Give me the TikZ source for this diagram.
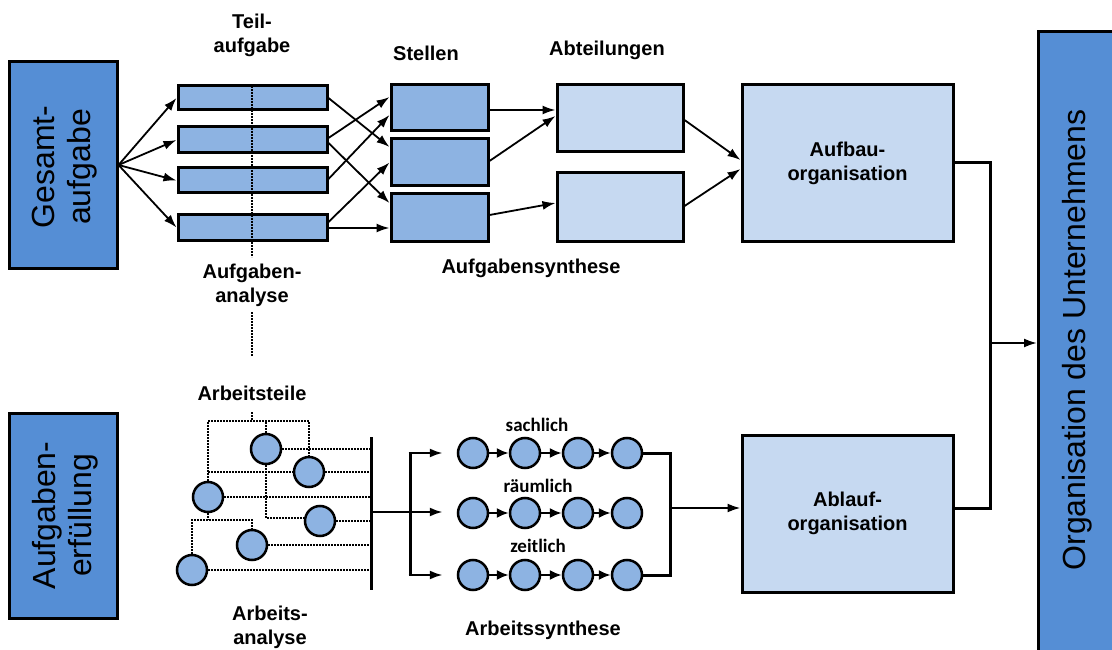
\documentclass[tikz,border=0pt]{standalone}
\usepackage{fontspec}
\setmainfont{Liberation Sans}
\newfontfamily\calfont{Carlito}
\usetikzlibrary{arrows.meta,calc}
\pgfdeclarelayer{background}
\pgfsetlayers{background,main}
\definecolor{bigblue}{HTML}{558ED5}
\definecolor{midblue}{HTML}{8DB3E2}
\definecolor{lightblue}{HTML}{C6D9F1}
\begin{document}
\begin{tikzpicture}[x=1pt,y=-1pt,
  bigbox/.style={draw, line width=3pt, fill=bigblue, inner sep=0pt},
  midbox/.style={draw, line width=3pt, fill=midblue, inner sep=0pt},
  lightbox/.style={draw, line width=3pt, fill=lightblue, inner sep=0pt},
  circ/.style={circle, draw, line width=2.5pt, fill=midblue, minimum size=30pt, inner sep=0pt},
  arr/.style={-{Latex[length=13pt,width=9pt]}, line width=1.8pt},
  sarr/.style={-{Latex[length=12pt,width=10pt]}, line width=2pt},
  dot/.style={line width=2.2pt, dash pattern=on 1.6pt off 1.4pt},
  lbl/.style={font=\bfseries\fontsize{20}{24}\selectfont, align=center, inner sep=0pt},
  slbl/.style={font=\calfont\bfseries\fontsize{19}{22}\selectfont, inner sep=0pt},
  bigtext/.style={font=\fontsize{32}{36}\selectfont, align=center, inner sep=0pt},
  bar/.style={line width=3pt}
]
\useasboundingbox (0,0) rectangle (1112,650);

% ---------- top half ----------
\node[bigbox, minimum width=108pt, minimum height=206pt] (G) at (63,165) {};
\node[bigtext, rotate=90] at ([xshift=2pt,yshift=-2pt]G.center) {Gesamt-\\aufgabe};

\node[midbox, minimum width=149pt, minimum height=24pt] (T1) at (252.5,98) {};
\node[midbox, minimum width=149pt, minimum height=26pt] (T2) at (252.5,140) {};
\node[midbox, minimum width=149pt, minimum height=25pt] (T3) at (252.5,180.5) {};
\node[midbox, minimum width=149pt, minimum height=25pt] (T4) at (252.5,227.5) {};

\coordinate (dv1) at (252,86);
\coordinate (dv2) at (252,257);
\coordinate (dv3) at (252,312);
\coordinate (dv4) at (252,356);
\draw[dot] (dv1) -- (dv2);
\draw[dot] (dv3) -- (dv4);

\node[midbox, minimum width=97pt, minimum height=46pt] (S1) at (439.5,108) {};
\node[midbox, minimum width=97pt, minimum height=47pt] (S2) at (439.5,162.5) {};
\node[midbox, minimum width=97pt, minimum height=47pt] (S3) at (439.5,217.5) {};

\node[lightbox, minimum width=126pt, minimum height=67pt] (A1) at (620,118.5) {};
\node[lightbox, minimum width=126pt, minimum height=68pt] (A2) at (620,207) {};

\node[lightbox, minimum width=211pt, minimum height=156pt, lbl] (AU) at (847.5,163) {Aufbau-\\organisation};
\node[lightbox, minimum width=211pt, minimum height=157pt, lbl] (AB) at (847.5,513.5) {Ablauf-\\organisation};

\begin{scope}
\clip (0,0) rectangle (1112,650);
\node[bigbox, minimum width=90pt, minimum height=640pt, anchor=north west] (O) at (1037,30) {};
\end{scope}
\node[bigtext, rotate=90] at (1077,340) {Organisation des Unternehmens};

\foreach \t in {T1,T2,T3,T4} \draw[arr] (G.east) -- (\t.west);

\draw[arr] (T1.east) -- ([yshift=15.5pt]S2.west);
\draw[arr] ([yshift=2pt]T2.east) -- ([yshift=11pt]S1.west);
\draw[arr] ([yshift=-3pt]T2.east) -- ([yshift=14.5pt]S3.west);
\draw[arr] ([yshift=1.5pt]T3.east) -- ([yshift=-7pt]S1.west);
\draw[arr] ([yshift=5.5pt]T4.east) -- (S2.west);
\draw[arr] ([yshift=-0.5pt]T4.east) -- ([yshift=-0.5pt]S3.west |- T4.east);

\draw[arr] ([yshift=-2pt]S1.east) -- ([yshift=8.5pt]A1.west);
\draw[arr] ([yshift=1.5pt]S2.east) -- ([yshift=2.5pt]A1.west);
\draw[arr] ([yshift=2.5pt]S3.east) -- ([yshift=4pt]A2.west);

\draw[arr] ([yshift=-1.5pt]A1.east) -- ([yshift=3pt]AU.west);
\draw[arr] ([yshift=1pt]A2.east) -- ([yshift=-6pt]AU.west);

\coordinate (J) at (990,343);
\draw[line width=3pt] (AU.east) -| (J) |- ([yshift=5.5pt]AB.east);
\draw[arr, line width=2pt] (J) -- (O.west |- J);

% labels top
\node[lbl] at (252,35) {Teil-\\aufgabe};
\node[lbl] at (252,285) {Aufgaben-\\analyse};
\node[lbl] at (426,53) {Stellen};
\node[lbl] at (607,50) {Abteilungen};
\node[lbl] at (531,268) {Aufgabensynthese};

% ---------- bottom half ----------
\node[bigbox, minimum width=108pt, minimum height=205pt] (E) at (63,515.5) {};
\node[bigtext, rotate=90] at ([xshift=2pt]E.center) {Aufgaben-\\erfüllung};

\node[lbl] at (252,393) {Arbeitsteile};
\node[lbl] at (270,627) {Arbeits-\\analyse};
\node[lbl] at (543,630) {Arbeitssynthese};

\node[circ] (c1) at (266,449) {};
\node[circ] (c2) at (309,472) {};
\node[circ] (c3) at (208,497) {};
\node[circ] (c4) at (320,521) {};
\node[circ] (c5) at (252,545) {};
\node[circ] (c6) at (192,570) {};

\coordinate (BT) at (371,437);
\coordinate (BB) at (371,590);
\coordinate (tp) at (252,412);
\coordinate (h1) at (252,421);
\coordinate (h2) at (252,520);

\begin{pgfonlayer}{background}
\draw[dot] (tp) -- (h1);
\draw[dot] (c3.north) |- (c2.north |- h1) -- (c2.north);
\draw[dot] (c1.north) -- (c1.north |- h1);
\draw[dot] (c1.east) -- (BT |- c1);
\draw[dot] (c3.north |- c2) -- (BT |- c2);
\draw[dot] (c3.east) -- (BT |- c3);
\draw[dot] (c1.south) |- ([yshift=3pt]c4.west);
\draw[dot] (c4.east) -- (BT |- c4);
\draw[dot] (c3.south) -- (c3.south |- h2);
\draw[dot] (c6.north) |- (c5.north |- h2) -- (c5.north);
\draw[dot] (c5.east) -- (BB |- c5);
\draw[dot] (c6.east) -- (BB |- c6);
\end{pgfonlayer}

\draw[bar] (BT) -- (BB);

% synthesis chains
\foreach \r/\y in {1/453,2/513,3/575}{
  \node[circ] (r\r a) at (473,\y) {};
  \node[circ] (r\r b) at (525,\y) {};
  \node[circ] (r\r c) at (578,\y) {};
  \node[circ] (r\r d) at (627,\y) {};
  \draw[sarr] (r\r a) -- (r\r b);
  \draw[sarr] (r\r b) -- (r\r c);
  \draw[sarr] (r\r c) -- (r\r d);
}
\node[slbl] at (537,425) {sachlich};
\node[slbl] at (538,486) {räumlich};
\node[slbl] at (538,546) {zeitlich};

\coordinate (bm) at (371,512);
\coordinate (bk) at (410,512);
\coordinate (bkT) at (410,453);
\coordinate (bkB) at (410,575);
\draw[line width=2pt] (bm) -- (bk);
\draw[line width=3pt] (bkT) -- (bkB);
\draw[arr, line width=2.2pt] ([xshift=-1.5pt]bkT) -- ([xshift=-14pt]r1a.west);
\draw[arr, line width=2.2pt] (bk) -- ([xshift=-14pt]r2a.west |- bk);
\draw[arr, line width=2.2pt] ([xshift=-1.5pt]bkB) -- ([xshift=-14pt]r3a.west);

\coordinate (bR) at (670,508);
\draw[line width=3pt] (r1d.east) -| (bR) |- (r3d.east);
\draw[arr, line width=2pt] (bR) -- (AB.west |- bR);
\end{tikzpicture}
\end{document}
